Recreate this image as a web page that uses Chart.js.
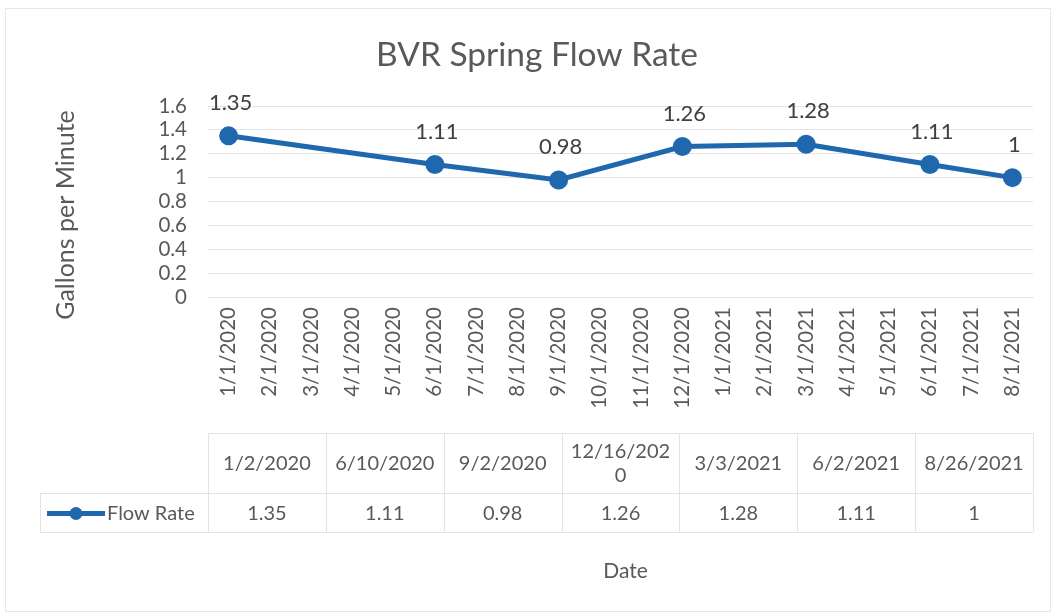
<!DOCTYPE html>
<html><head><meta charset="utf-8">
<script src="https://cdn.jsdelivr.net/npm/chart.js@4"></script>
<style>html,body{margin:0;padding:0;background:#fff;}</style>
</head><body>
<canvas id="c" width="1055" height="615"></canvas>
<script>
const chartTitle = 'BVR Spring Flow Rate';
const yTitle = 'Gallons per Minute';
const xTitle = 'Date';
const seriesName = 'Flow Rate';
const monthTicks = ['1/1/2020','2/1/2020','3/1/2020','4/1/2020','5/1/2020','6/1/2020','7/1/2020','8/1/2020','9/1/2020','10/1/2020','11/1/2020','12/1/2020','1/1/2021','2/1/2021','3/1/2021','4/1/2021','5/1/2021','6/1/2021','7/1/2021','8/1/2021'];
const sampleDates = ['1/2/2020','6/10/2020','9/2/2020','12/16/2020','3/3/2021','6/2/2021','8/26/2021'];
const flowRate = [1.35, 1.11, 0.98, 1.26, 1.28, 1.11, 1];
const yTicks = [0, 0.2, 0.4, 0.6, 0.8, 1, 1.2, 1.4, 1.6];

const FONT = 'Lato, "Open Sans", sans-serif';
const TXT = '#595959';
const LINE = '#1f68ad';
const GRID = '#e3e3e3';

function monthOf(d){ const p = d.split('/'); return p[0] + '/1/' + p[2]; }
const points = sampleDates.map((d, i) => ({ x: monthOf(d), y: flowRate[i] }));

const frame = {
  id: 'frame',
  beforeDraw(chart){
    const c = chart.ctx; c.save();
    c.fillStyle = '#ffffff'; c.fillRect(0,0,chart.width,chart.height);
    c.strokeStyle = '#e8e8e8'; c.lineWidth = 1;
    c.strokeRect(5.5, 8.5, chart.width - 10, chart.height - 12);
    c.restore();
  }
};

const labels = {
  id: 'labels',
  afterDatasetsDraw(chart){
    const c = chart.ctx; const meta = chart.getDatasetMeta(0);
    c.save(); c.font = '22px ' + FONT; c.fillStyle = '#404040';
    c.textAlign = 'center'; c.textBaseline = 'middle';
    meta.data.forEach((pt, i) => { c.fillText(String(flowRate[i]), pt.x + 2, pt.y - 33); });
    c.restore();
  }
};

const titles = {
  id: 'titles',
  afterDraw(chart){
    const c = chart.ctx; const a = chart.chartArea;
    c.save(); c.fillStyle = TXT; c.font = '33.5px ' + FONT;
    c.textAlign = 'center'; c.textBaseline = 'middle';
    c.fillText(chartTitle, 537, 55);
    c.restore();
    c.save(); c.fillStyle = TXT; c.font = '25px ' + FONT;
    c.textAlign = 'center'; c.textBaseline = 'middle';
    c.translate(66, 215); c.rotate(-Math.PI/2); c.fillText(yTitle, 0, 0);
    c.restore();
    c.save(); c.fillStyle = TXT; c.font = '21px ' + FONT;
    c.textAlign = 'center'; c.textBaseline = 'middle';
    c.fillText(xTitle, (a.left + a.right)/2 + 5, 571);
    c.restore();
  }
};

function wrapText(c, s, maxW){
  if (c.measureText(s).width <= maxW) return [s];
  const lines = []; let cur = '';
  for (const ch of s){
    if (c.measureText(cur + ch).width > maxW && cur){ lines.push(cur); cur = ch; }
    else cur += ch;
  }
  if (cur) lines.push(cur);
  return lines;
}

const table = {
  id: 'table',
  afterDraw(chart){
    const c = chart.ctx; const a = chart.chartArea;
    const L = a.left, R = a.right, n = sampleDates.length, w = (R - L)/n;
    const top = 433, mid = 493, bot = 532, legL = 40;
    c.save();
    c.strokeStyle = GRID; c.lineWidth = 1;
    c.beginPath();
    c.moveTo(L, top + .5); c.lineTo(R, top + .5);
    c.moveTo(legL, mid + .5); c.lineTo(R, mid + .5);
    c.moveTo(legL, bot + .5); c.lineTo(R, bot + .5);
    for (let i = 0; i <= n; i++){ const x = Math.round(L + i*w) + .5; c.moveTo(x, top); c.lineTo(x, bot); }
    c.moveTo(legL + .5, mid); c.lineTo(legL + .5, bot);
    c.stroke();
    c.fillStyle = TXT; c.font = '20px ' + FONT; c.textAlign = 'center'; c.textBaseline = 'middle';
    sampleDates.forEach((d, i) => {
      const cx = L + (i + .5)*w;
      const lines = wrapText(c, d, w - 12);
      const lh = 24, y0 = (top + mid)/2 + 1 - (lines.length - 1)*lh/2;
      lines.forEach((ln, j) => c.fillText(ln, cx, y0 + j*lh));
      c.fillText(String(flowRate[i]), cx, (mid + bot)/2 + 1);
    });
    const ly = (mid + bot)/2 + 1;
    c.strokeStyle = LINE; c.lineWidth = 5;
    c.beginPath(); c.moveTo(47, ly); c.lineTo(105, ly); c.stroke();
    c.fillStyle = LINE; c.beginPath(); c.arc(76, ly, 6.5, 0, Math.PI*2); c.fill();
    c.fillStyle = TXT; c.textAlign = 'left';
    c.fillText(seriesName, 107, ly);
    c.restore();
  }
};

new Chart(document.getElementById('c'), {
  type: 'line',
  data: {
    labels: monthTicks,
    datasets: [{
      label: seriesName, data: points,
      borderColor: LINE, backgroundColor: LINE, borderWidth: 5,
      pointRadius: 7, pointHoverRadius: 7, pointBackgroundColor: LINE, pointBorderColor: LINE,
      tension: 0, spanGaps: true
    }]
  },
  options: {
    responsive: false, animation: false,
    layout: { padding: { left: 0, right: 22, top: 106, bottom: 10 } },
    plugins: {
      legend: { display: false }, tooltip: { enabled: false }, title: { display: false }
    },
    scales: {
      x: {
        type: 'category', offset: true,
        grid: { display: false, drawTicks: false },
        border: { display: true, color: GRID, width: 1 },
        ticks: { autoSkip: false, minRotation: 90, maxRotation: 90, padding: 10, color: TXT, font: { family: FONT, size: 20.5 } },
        afterFit(s){ s.height = 308; }
      },
      y: {
        min: 0, max: 1.6,
        afterBuildTicks(s){ s.ticks = yTicks.map(v => ({ value: v })); },
        grid: { color: GRID, drawTicks: false },
        border: { display: false },
        ticks: { autoSkip: false, padding: 21, color: TXT, font: { family: FONT, size: 20.5 }, callback: v => String(+v.toFixed(1)) },
        afterFit(s){ s.width = 208; }
      }
    }
  },
  plugins: [frame, labels, titles, table]
});
</script>
</body></html>
